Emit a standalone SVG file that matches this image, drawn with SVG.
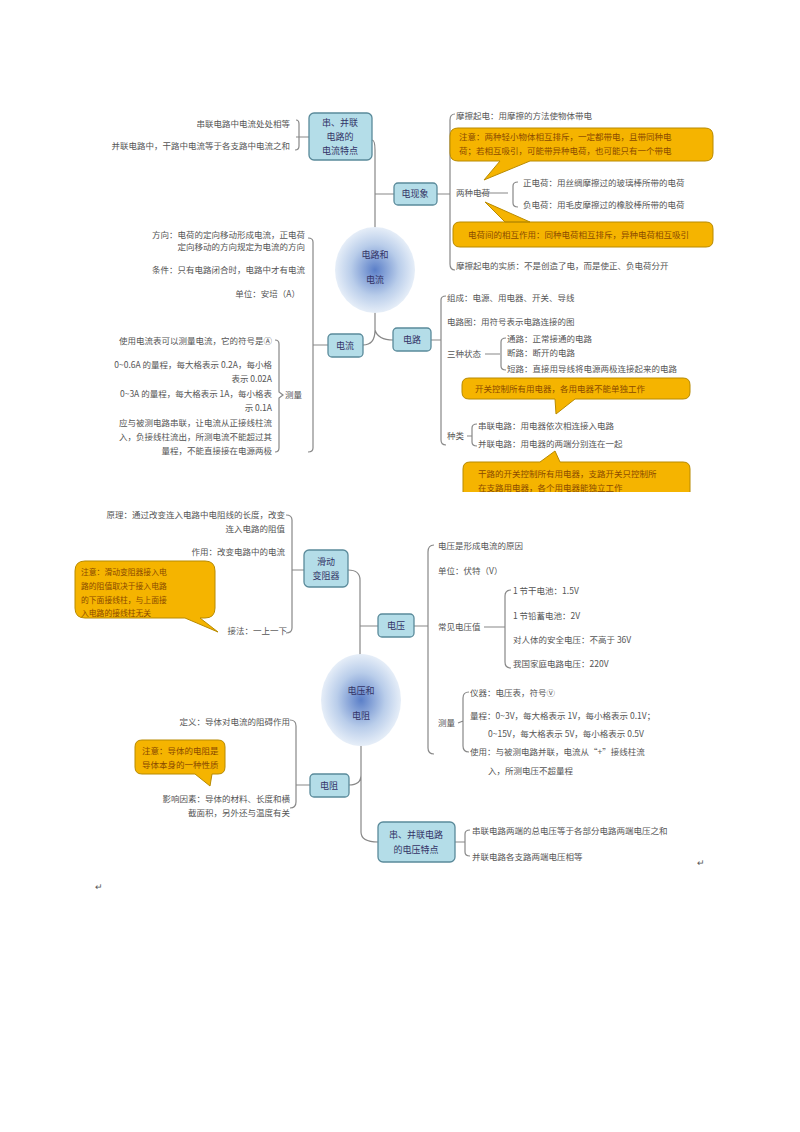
<svg xmlns="http://www.w3.org/2000/svg" width="800" height="1132" viewBox="0 0 800 1132">
<defs>
<radialGradient id="g" cx="50%" cy="50%" r="50%"><stop offset="0" stop-color="#5b7fc8"/><stop offset="0.6" stop-color="#b9cdea"/><stop offset="1" stop-color="#e6eef8"/></radialGradient>
<clipPath id="cp"><rect x="0" y="0" width="800" height="492"/></clipPath>
<style>
text{font-family:"Noto Sans CJK SC","Liberation Serif",serif;font-size:8.5px;fill:#555}
.r{text-anchor:end}
.c{text-anchor:middle}
.box{fill:#b4dde8;stroke:#5a8a9a;stroke-width:1.3}
.ln{fill:none;stroke:#888;stroke-width:1.2}
.co{fill:#f5b400;stroke:#b88a00;stroke-width:1}
.bt{fill:#336;font-size:9px}
.ct{fill:#8a4a00}
.sm{font-size:7.8px}
</style>
</defs>
<rect width="800" height="1132" fill="#fff"/>
<g id="connectors" class="ln">
<path d="M372 140 Q375 140 375 150 L375 228 M375 194 Q378 194 394 194 M375 312 L375 330 Q375 345 363 345 M375 330 Q378 340 393 340"/>
<path d="M309 137 L296 137 M296 120 Q299 120 299 124 L299 146 Q299 150 295 150"/>
<path d="M328 345 L313 345 M308 238 Q313 238 313 242 L313 448 Q313 452 308 452"/>
<path d="M275 340 Q279 340 279 344 L279 392 L283 395 L279 398 L279 448 Q279 452 275 452"/>
<path d="M437 194 L450 194 M455 114 Q450 114 450 120 L450 264 Q450 270 455 270"/>
<path d="M480 193 L508 193 M518 182 Q513 182 513 186 L513 203 Q513 207 518 207"/>
<path d="M431 340 L441 340 M446 296 Q441 296 441 300 L441 440 Q441 445 446 445"/>
<path d="M485 354 L500 354 M506 338 Q501 338 501 342 L501 366 Q501 370 506 370"/>
<path d="M467 436 L472 436 M477 424 Q472 424 472 428 L472 442 Q472 446 477 446"/>
<path d="M348 570 Q360 570 360 580 L360 655 M360 626 Q362 626 378 626 M361 745 L361 832 Q361 842 378 842 M361 775 Q361 785 349 785"/>
<path d="M304 570 L292 570 M286 515 Q292 515 292 520 L292 628 Q292 633 286 633"/>
<path d="M414 626 L428 626 M434 545 Q428 545 428 552 L428 748 Q428 754 434 754"/>
<path d="M484 627 L505 627 M511 590 Q505 590 505 596 L505 662 Q505 668 511 668"/>
<path d="M458 723 L463 721 M469 692 Q463 692 463 698 L463 746 Q463 752 469 752"/>
<path d="M310 785 L296 785 M290 720 Q296 720 296 726 L296 802 Q296 808 290 808"/>
<path d="M455 842 L465 842 M470 830 Q465 830 465 834 L465 852 Q465 856 470 856"/>
</g>
<g id="center1"><ellipse cx="375" cy="270" rx="40" ry="43" fill="url(#g)"/><text class="c bt" x="375" y="258">电路和</text><text class="c bt" x="375" y="283">电流</text></g>
<g id="n-bing"><rect class="box" x="309" y="113" width="63" height="47" rx="5"/><text class="c bt" x="340" y="126">串、并联</text><text class="c bt" x="340" y="140">电路的</text><text class="c bt" x="340" y="154">电流特点</text></g>
<g id="n-xx"><rect class="box" x="394" y="183" width="43" height="22" rx="4"/><text class="c bt" x="415" y="197">电现象</text></g>
<g id="n-dl"><rect class="box" x="328" y="334" width="35" height="23" rx="4"/><text class="c bt" x="345" y="349">电流</text></g>
<g id="n-lu"><rect class="box" x="393" y="328" width="38" height="23" rx="4"/><text class="c bt" x="412" y="343">电路</text></g>
<g id="t1">
<text class="r" x="290" y="127">串联电路中电流处处相等</text>
<text class="r" x="290" y="149">并联电路中，干路中电流等于各支路中电流之和</text>
<text class="r" x="305" y="238">方向：电荷的定向移动形成电流，正电荷</text>
<text class="r" x="305" y="250">定向移动的方向规定为电流的方向</text>
<text class="r" x="305" y="273">条件：只有电路闭合时，电路中才有电流</text>
<text class="r" x="300" y="297">单位：安培（A）</text>
<text class="r" x="272" y="344">使用电流表可以测量电流，它的符号是Ⓐ</text>
<text class="r" x="272" y="368">0~0.6A 的量程，每大格表示 0.2A，每小格</text>
<text class="r" x="272" y="382">表示 0.02A</text>
<text class="r" x="272" y="397">0~3A 的量程，每大格表示 1A，每小格表</text>
<text class="r" x="272" y="411">示 0.1A</text>
<text class="r" x="272" y="426">应与被测电路串联，让电流从正接线柱流</text>
<text class="r" x="272" y="440">入，负接线柱流出，所测电流不能超过其</text>
<text class="r" x="272" y="454">量程，不能直接接在电源两极</text>
<text x="285" y="398">测量</text>
<text x="456" y="119">摩擦起电：用摩擦的方法使物体带电</text>
<text x="456" y="196">两种电荷</text>
<text x="523" y="186">正电荷：用丝绸摩擦过的玻璃棒所带的电荷</text>
<text x="523" y="208">负电荷：用毛皮摩擦过的橡胶棒所带的电荷</text>
<text x="456" y="269">摩擦起电的实质：不是创造了电，而是使正、负电荷分开</text>
<text x="447" y="301">组成：电源、用电器、开关、导线</text>
<text x="447" y="325">电路图：用符号表示电路连接的图</text>
<text x="447" y="357">三种状态</text>
<text x="507" y="342">通路：正常接通的电路</text>
<text x="507" y="356">断路：断开的电路</text>
<text x="507" y="372">短路：直接用导线将电源两极连接起来的电路</text>
<text x="447" y="439">种类</text>
<text x="478" y="429">串联电路：用电器依次相连接入电路</text>
<text x="478" y="447">并联电路：用电器的两端分别连在一起</text>
</g>
<g id="callouts1">
<path class="co" d="M458 128 L705 128 Q713 128 713 136 L713 153 Q713 161 705 161 L530 161 L484 180 L500 161 L458 161 Q450 161 450 153 L450 136 Q450 128 458 128Z"/>
<text class="ct" x="459" y="140">注意：两种轻小物体相互排斥，一定都带电，且带同种电</text>
<text class="ct" x="459" y="154">荷；若相互吸引，可能带异种电荷，也可能只有一个带电</text>
<path class="co" d="M460 222 L530 222 L485 202 L505 222 L706 222 Q713 222 713 229 L713 240 Q713 247 706 247 L460 247 Q453 247 453 240 L453 229 Q453 222 460 222Z"/>
<text class="ct" x="468" y="238">电荷间的相互作用：同种电荷相互排斥，异种电荷相互吸引</text>
<path class="co" d="M469 378 L683 378 Q690 378 690 385 L690 392 Q690 399 683 399 L575 399 L556 414 L555 399 L469 399 Q462 399 462 392 L462 385 Q462 378 469 378Z"/>
<text class="ct" x="475" y="392">开关控制所有用电器，各用电器不能单独工作</text>
<g clip-path="url(#cp)">
<path class="co" d="M470 462 L540 462 L555 451 L560 462 L683 462 Q690 462 690 469 L690 492 Q690 499 683 499 L470 499 Q463 499 463 492 L463 469 Q463 462 470 462Z"/>
<text class="ct" x="478" y="477">干路的开关控制所有用电器，支路开关只控制所</text>
<text class="ct" x="478" y="491">在支路用电器，各个用电器能独立工作</text>
</g>
</g>
<g id="center2"><ellipse cx="361" cy="700" rx="40" ry="46" fill="url(#g)"/><text class="c bt" x="361" y="694">电压和</text><text class="c bt" x="361" y="719">电阻</text></g>
<g id="n-hd"><rect class="box" x="304" y="550" width="44" height="37" rx="5"/><text class="c bt" x="326" y="565">滑动</text><text class="c bt" x="326" y="579">变阻器</text></g>
<g id="n-dy"><rect class="box" x="378" y="614" width="36" height="23" rx="4"/><text class="c bt" x="396" y="629">电压</text></g>
<g id="n-dz"><rect class="box" x="310" y="774" width="39" height="23" rx="4"/><text class="c bt" x="329" y="789">电阻</text></g>
<g id="n-bv"><rect class="box" x="378" y="822" width="77" height="40" rx="5"/><text class="c bt" x="416" y="838">串、并联电路</text><text class="c bt" x="416" y="853">的电压特点</text></g>
<g id="t2">
<text class="r" x="285" y="518">原理：通过改变连入电路中电阻线的长度，改变</text>
<text class="r" x="285" y="532">连入电路的阻值</text>
<text class="r" x="285" y="555">作用：改变电路中的电流</text>
<text class="r" x="287" y="634">接法：一上一下</text>
<text x="438" y="549">电压是形成电流的原因</text>
<text x="438" y="574">单位：伏特（V）</text>
<text x="438" y="630">常见电压值</text>
<text x="513" y="594">1 节干电池：1.5V</text>
<text x="513" y="619">1 节铅蓄电池：2V</text>
<text x="513" y="643">对人体的安全电压：不高于 36V</text>
<text x="513" y="667">我国家庭电路电压：220V</text>
<text x="438" y="726">测量</text>
<text x="470" y="696">仪器：电压表，符号Ⓥ</text>
<text x="470" y="719">量程：0~3V，每大格表示 1V，每小格表示 0.1V；</text>
<text x="488" y="737">0~15V，每大格表示 5V，每小格表示 0.5V</text>
<text x="470" y="755">使用：与被测电路并联，电流从“+”接线柱流</text>
<text x="488" y="774">入，所测电压不超量程</text>
<text class="r" x="290" y="725">定义：导体对电流的阻碍作用</text>
<text class="r" x="290" y="802">影响因素：导体的材料、长度和横</text>
<text class="r" x="290" y="816">截面积，另外还与温度有关</text>
<text x="472" y="834">串联电路两端的总电压等于各部分电路两端电压之和</text>
<text x="472" y="860">并联电路各支路两端电压相等</text>
<text x="697" y="866">↵</text>
<text x="95" y="890">↵</text>
</g>
<g id="callouts2">
<path class="co" d="M85 561 L205 561 Q215 561 215 571 L215 608 Q215 618 205 618 L200 618 L218 632 L185 618 L85 618 Q75 618 75 608 L75 571 Q75 561 85 561Z"/>
<text class="ct sm" x="81" y="575">注意：滑动变阻器接入电</text>
<text class="ct sm" x="81" y="589">路的阻值取决于接入电路</text>
<text class="ct sm" x="81" y="603">的下面接线柱，与上面接</text>
<text class="ct sm" x="81" y="616">入电路的接线柱无关</text>
<path class="co" d="M142 740 L218 740 Q225 740 225 747 L225 767 Q225 774 218 774 L212 774 L210 786 L195 774 L142 774 Q135 774 135 767 L135 747 Q135 740 142 740Z"/>
<text class="ct" x="142" y="754">注意：导体的电阻是</text>
<text class="ct" x="142" y="768">导体本身的一种性质</text>
</g>
</svg>
